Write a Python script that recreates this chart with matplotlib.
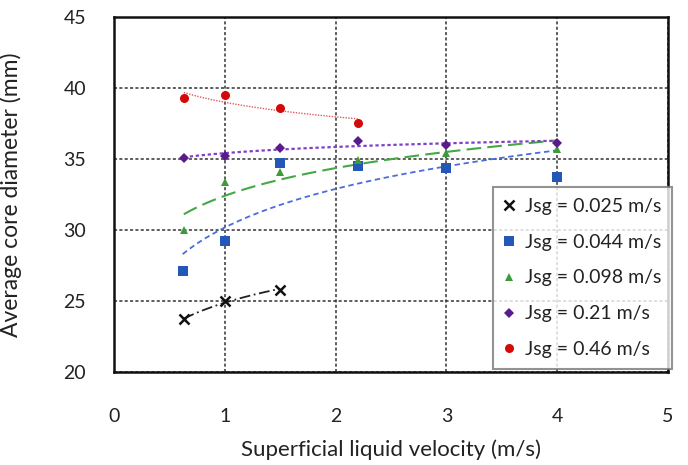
import numpy as np
import matplotlib
matplotlib.use("Agg")
import matplotlib.pyplot as plt

plt.rcParams['font.family'] = ['Lato', 'DejaVu Sans']

# Data
x_025 = [0.63, 1.0, 1.5]
y_025 = [23.7, 25.0, 25.8]

x_044 = [0.62, 1.0, 1.5, 2.2, 3.0, 4.0]
y_044 = [27.1, 29.2, 34.7, 34.5, 34.4, 33.7]

x_098 = [0.63, 1.0, 1.5, 2.2, 3.0, 4.0]
y_098 = [30.0, 33.4, 34.1, 34.9, 35.4, 35.7]

x_021 = [0.63, 1.0, 1.5, 2.2, 3.0, 4.0]
y_021 = [35.1, 35.2, 35.8, 36.3, 36.0, 36.1]

x_046 = [0.63, 1.0, 1.5, 2.2]
y_046 = [39.3, 39.5, 38.6, 37.5]

labels = ["Jsg = 0.025 m/s", "Jsg = 0.044 m/s", "Jsg = 0.098 m/s",
          "Jsg = 0.21 m/s", "Jsg = 0.46 m/s"]
x_ticks = [0, 1, 2, 3, 4, 5]
y_ticks = [20, 25, 30, 35, 40, 45]

fig = plt.figure(figsize=(6.88, 4.65), dpi=100)
ax = fig.add_axes([114/688, 1-372/465, 554/688, 355/465])

series = [
    (x_025, y_025, dict(marker='x', color='#111111', ms=7, mew=1.8),
     dict(color='#222222', ls=(0, (6, 2, 1, 2)), lw=1.3)),
    (x_044, y_044, dict(marker='s', color='#2358b8', ms=7, mew=0),
     dict(color='#4a6ce0', ls=(0, (3, 2)), lw=1.3)),
    (x_098, y_098, dict(marker='^', color='#3d9a3d', ms=6, mew=0),
     dict(color='#45a845', ls=(0, (7, 3)), lw=1.5)),
    (x_021, y_021, dict(marker='D', color='#5a1a8c', ms=5.5, mew=0),
     dict(color='#8040c8', ls=(0, (1.5, 1.2)), lw=1.6)),
    (x_046, y_046, dict(marker='o', color='#d40a0a', ms=6.5, mew=0),
     dict(color='#e05a5a', ls=(0, (1, 1)), lw=1.0)),
]

for (xs, ys, mk, tl), lab in zip(series, labels):
    xs = np.array(xs); ys = np.array(ys)
    b, a = np.polyfit(np.log(xs), ys, 1)
    xf = np.linspace(xs.min(), xs.max(), 100)
    ax.plot(xf, a + b*np.log(xf), zorder=2, **tl)
    ax.plot(xs, ys, ls='none', label=lab, zorder=3, **mk)

ax.set_xlim(0, 5)
ax.set_ylim(20, 45)
ax.set_xticks(x_ticks)
ax.set_yticks(y_ticks)
ax.grid(True, color='#333333', ls=(0, (2, 1.5)), lw=1.1, zorder=0)
ax.set_axisbelow(True)
for s in ax.spines.values():
    s.set_linewidth(1.8)
    s.set_color('#111111')
ax.tick_params(length=0, labelsize=14, colors='#222222')
ax.tick_params(axis='x', pad=26)
ax.tick_params(axis='y', pad=20)

ax.set_xlabel("Superficial liquid velocity (m/s)", fontsize=16, color='#222222')
ax.set_ylabel("Average core diameter (mm)", fontsize=16.5, color='#222222')
ax.xaxis.set_label_coords(0.5, -0.19)
ax.yaxis.set_label_coords(-0.166, 0.5)

leg = ax.legend(loc='upper left', bbox_to_anchor=(0.684, 0.521), fontsize=14,
                frameon=True, fancybox=False, edgecolor='#777777',
                handlelength=0.6, handletextpad=0.5, labelspacing=0.97,
                borderpad=0.55, borderaxespad=0)
leg.get_frame().set_linewidth(1.5)
for t in leg.get_texts():
    t.set_color('#222222')

fig.savefig("out.png", dpi=100)
